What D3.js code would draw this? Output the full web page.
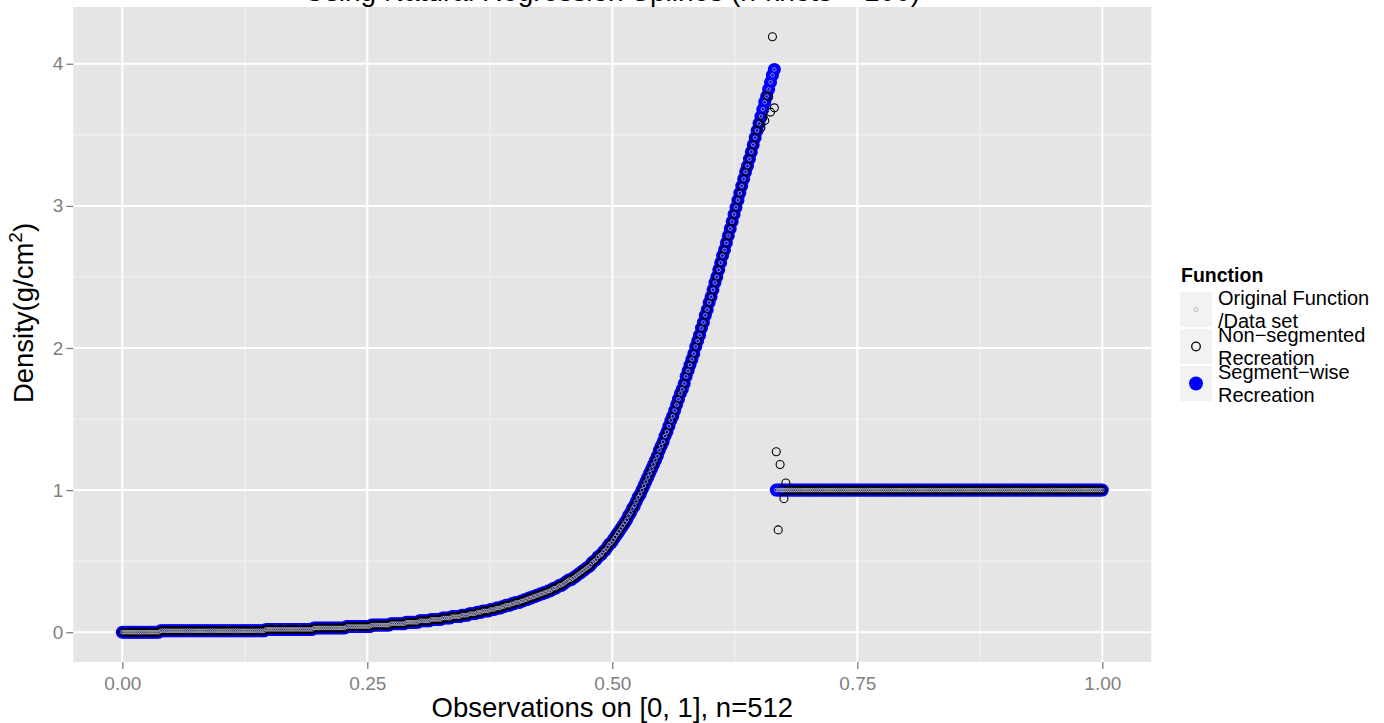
<!DOCTYPE html>
<html>
<head>
<meta charset="utf-8">
<script src="https://cdn.jsdelivr.net/npm/d3@7"></script>
<style>
  body { margin: 0; background: #ffffff; }
  svg { display: block; }
  text { font-family: "Liberation Sans", Arial, Helvetica, sans-serif; }
</style>
</head>
<body>
<svg id="chart" width="1384" height="723"></svg>
<script>
// ---- data -------------------------------------------------------------
const nObs = 512;

// density of the original function at each of the 512 observations
const original = [
  0,0,0,0,0,0,0,0,0,0,0,0,0,0,0,0,0,0,0,0,                                                               // 0-19
  0.01,0.01,0.01,0.01,0.01,0.01,0.01,0.01,0.01,0.01,0.01,0.01,0.01,0.01,0.01,0.01,0.01,0.01,0.01,0.01, // 20-39
  0.01,0.01,0.01,0.01,0.01,0.01,0.01,0.01,0.01,0.01,0.01,0.01,0.01,0.01,0.01,0.01,0.01,0.01,0.01,0.01, // 40-59
  0.01,0.01,0.01,0.01,0.01,0.01,0.01,0.01,0.01,0.01,0.01,0.01,0.01,0.01,0.01,0.02,0.02,0.02,0.02,0.02, // 60-79
  0.02,0.02,0.02,0.02,0.02,0.02,0.02,0.02,0.02,0.02,0.02,0.02,0.02,0.02,0.02,0.02,0.02,0.02,0.02,0.02, // 80-99
  0.03,0.03,0.03,0.03,0.03,0.03,0.03,0.03,0.03,0.03,0.03,0.03,0.03,0.03,0.03,0.03,0.03,0.04,0.04,0.04, // 100-119
  0.04,0.04,0.04,0.04,0.04,0.04,0.04,0.04,0.04,0.04,0.05,0.05,0.05,0.05,0.05,0.05,0.05,0.05,0.05,0.05, // 120-139
  0.06,0.06,0.06,0.06,0.06,0.06,0.06,0.06,0.07,0.07,0.07,0.07,0.07,0.07,0.07,0.08,0.08,0.08,0.08,0.08, // 140-159
  0.08,0.09,0.09,0.09,0.09,0.09,0.09,0.10,0.10,0.10,0.10,0.10,0.11,0.11,0.11,0.11,0.11,0.12,0.12,0.12, // 160-179
  0.12,0.13,0.13,0.13,0.13,0.14,0.14,0.14,0.15,0.15,0.15,0.15,0.16,0.16,0.16,0.17,0.17,0.17,0.18,0.18, // 180-199
  0.19,0.19,0.19,0.20,0.20,0.21,0.21,0.21,0.22,0.22,0.23,0.23,0.24,0.24,0.25,0.25,0.26,0.26,0.27,0.27, // 200-219
  0.28,0.28,0.29,0.29,0.30,0.31,0.31,0.32,0.33,0.33,0.34,0.35,0.36,0.37,0.37,0.38,0.39,0.40,0.41,0.42, // 220-239
  0.43,0.44,0.45,0.46,0.47,0.49,0.50,0.51,0.53,0.54,0.55,0.57,0.58,0.60,0.62,0.63,0.65,0.67,0.69,0.71, // 240-259
  0.73,0.75,0.77,0.79,0.82,0.84,0.87,0.89,0.92,0.95,0.97,1.00,1.03,1.06,1.09,1.12,1.15,1.18,1.21,1.24, // 260-279
  1.28,1.31,1.34,1.38,1.41,1.45,1.49,1.52,1.56,1.60,1.64,1.68,1.71,1.75,1.80,1.84,1.88,1.92,1.96,2.01, // 280-299
  2.05,2.09,2.14,2.18,2.23,2.27,2.32,2.36,2.41,2.46,2.50,2.55,2.60,2.65,2.69,2.74,2.79,2.84,2.89,2.94, // 300-319
  2.99,3.04,3.09,3.14,3.19,3.24,3.28,3.33,3.38,3.43,3.48,3.53,3.58,3.63,3.68,3.73,3.77,3.82,3.87,3.92, // 320-339
  3.96,1,1,1,1,1,1,1,1,1,1,1,1,1,1,1,1,1,1,1,        // 340-359
  1,1,1,1,1,1,1,1,1,1,1,1,1,1,1,1,1,1,1,1,            // 360-379
  1,1,1,1,1,1,1,1,1,1,1,1,1,1,1,1,1,1,1,1,            // 380-399
  1,1,1,1,1,1,1,1,1,1,1,1,1,1,1,1,1,1,1,1,            // 400-419
  1,1,1,1,1,1,1,1,1,1,1,1,1,1,1,1,1,1,1,1,            // 420-439
  1,1,1,1,1,1,1,1,1,1,1,1,1,1,1,1,1,1,1,1,            // 440-459
  1,1,1,1,1,1,1,1,1,1,1,1,1,1,1,1,1,1,1,1,            // 460-479
  1,1,1,1,1,1,1,1,1,1,1,1,1,1,1,1,1,1,1,1,            // 480-499
  1,1,1,1,1,1,1,1,1,1,1,1                             // 500-511
];

// the segment-wise recreation reproduces the original at every observation
const segmentWise = original.slice();

// the non-segmented recreation rings around the jump: [observation, value]
const nonSegmentedJump = [
  [333, 3.55], [334, 3.62], [335, 3.60], [336, 3.78], [337, 3.77],
  [338, 3.66], [339, 4.19], [340, 3.69], [341, 1.27], [342, 0.72],
  [343, 1.18], [345, 0.94], [346, 1.05]
];

const xTicks = [0, 0.25, 0.5, 0.75, 1];
const xTickLabels = ["0.00", "0.25", "0.50", "0.75", "1.00"];
const yTicks = [0, 1, 2, 3, 4];
const yTickLabels = ["0", "1", "2", "3", "4"];

const seriesNames = ["Original Function\n/Data set", "Non\u2212segmented\nRecreation", "Segment\u2212wise\nRecreation"];

const titleText = "Using Natural Regression Splines (n-knots = 100)";
const xTitle = "Observations on [0, 1], n=512";

// ---- derived tables ---------------------------------------------------
const obsX = d3.range(nObs).map(i => i / (nObs - 1));
const nonSegmented = original.slice();
nonSegmentedJump.forEach(([i, v]) => { nonSegmented[i] = v; });

const rows = (vals) => vals.map((v, i) => ({ x: obsX[i], y: v }));
const seriesData = {
  original: rows(original),
  nonSegmented: rows(nonSegmented),
  segmentWise: rows(segmentWise)
};

// ---- layout -----------------------------------------------------------
const svg = d3.select("#chart");
const panel = { left: 73.3, right: 1151.3, top: 7, bottom: 662 };

const expand = ([a, b]) => [a - 0.05 * (b - a), b + 0.05 * (b - a)];
const yExtent = d3.extent(original.concat(nonSegmented, segmentWise));

const x = d3.scaleLinear().domain(expand([0, 1])).range([panel.left, panel.right]);
const y = d3.scaleLinear().domain(expand(yExtent)).range([panel.bottom, panel.top]);

// panel background
svg.append("rect")
  .attr("x", panel.left).attr("y", panel.top)
  .attr("width", panel.right - panel.left).attr("height", panel.bottom - panel.top)
  .attr("fill", "#E5E5E5");

// minor grid
const mid = (t) => d3.range(t.length - 1).map(i => (t[i] + t[i + 1]) / 2);
const grid = svg.append("g");
grid.selectAll(".xminor").data(mid(xTicks)).join("line")
  .attr("x1", d => x(d)).attr("x2", d => x(d))
  .attr("y1", panel.top).attr("y2", panel.bottom)
  .attr("stroke", "#F2F2F2").attr("stroke-width", 1.1);
grid.selectAll(".yminor").data(mid(yTicks)).join("line")
  .attr("y1", d => y(d)).attr("y2", d => y(d))
  .attr("x1", panel.left).attr("x2", panel.right)
  .attr("stroke", "#F2F2F2").attr("stroke-width", 1.1);
// major grid
grid.selectAll(".xmajor").data(xTicks).join("line")
  .attr("x1", d => x(d)).attr("x2", d => x(d))
  .attr("y1", panel.top).attr("y2", panel.bottom)
  .attr("stroke", "#FFFFFF").attr("stroke-width", 2);
grid.selectAll(".ymajor").data(yTicks).join("line")
  .attr("y1", d => y(d)).attr("y2", d => y(d))
  .attr("x1", panel.left).attr("x2", panel.right)
  .attr("stroke", "#FFFFFF").attr("stroke-width", 2);

// ---- points -----------------------------------------------------------
const pts = svg.append("g");
pts.append("g").selectAll("circle").data(seriesData.segmentWise).join("circle")
  .attr("cx", d => x(d.x)).attr("cy", d => y(d.y)).attr("r", 6.5)
  .attr("fill", "#0000FF");
pts.append("g").selectAll("circle").data(seriesData.nonSegmented).join("circle")
  .attr("cx", d => x(d.x)).attr("cy", d => y(d.y)).attr("r", 4)
  .attr("fill", "none").attr("stroke", "#000000").attr("stroke-width", 1.1);
pts.append("g").selectAll("circle").data(seriesData.original).join("circle")
  .attr("cx", d => x(d.x)).attr("cy", d => y(d.y)).attr("r", 1.8)
  .attr("fill", "none").attr("stroke", "#B3B3B3").attr("stroke-width", 0.8);

// ---- axes -------------------------------------------------------------
const axisColor = "#7F7F7F";
const xAxis = svg.append("g")
  .attr("transform", `translate(0,${panel.bottom})`)
  .call(d3.axisBottom(x).tickValues(xTicks).tickFormat((d, i) => xTickLabels[i])
    .tickSize(7).tickPadding(8));
const yAxis = svg.append("g")
  .attr("transform", `translate(${panel.left},0)`)
  .call(d3.axisLeft(y).tickValues(yTicks).tickFormat((d, i) => yTickLabels[i])
    .tickSize(7).tickPadding(3));
[xAxis, yAxis].forEach(a => {
  a.select(".domain").remove();
  a.selectAll(".tick line").attr("stroke", axisColor).attr("stroke-width", 1.3);
  a.selectAll(".tick text").attr("fill", axisColor)
    .attr("font-size", 19).attr("font-family", "Liberation Sans, Arial, sans-serif");
});

// axis titles
svg.append("text")
  .attr("x", (panel.left + panel.right) / 2).attr("y", 717)
  .attr("text-anchor", "middle").attr("font-size", 27.5).attr("fill", "#000")
  .text(xTitle);

const yTitle = svg.append("text")
  .attr("transform", "translate(33,313) rotate(-90)")
  .attr("text-anchor", "middle").attr("font-size", 27.5).attr("fill", "#000");
yTitle.append("tspan").text("Density(g/cm");
yTitle.append("tspan").attr("font-size", 19).attr("dy", -11).text("2");
yTitle.append("tspan").attr("dy", 11).text(")");

// plot title (sits against the top edge)
svg.append("text")
  .attr("x", (panel.left + panel.right) / 2).attr("y", 1)
  .attr("text-anchor", "middle").attr("font-size", 28).attr("fill", "#000")
  .text(titleText);

// ---- legend -----------------------------------------------------------
const legend = svg.append("g").attr("transform", "translate(1180,0)");
legend.append("text").attr("x", 1).attr("y", 282)
  .attr("font-size", 19.5).attr("font-weight", "bold").text("Function");

const keyTops = [292, 329, 366];
const keyH = 35, keyW = 32;
const keyStyles = [
  { r: 2, fill: "none", stroke: "#B3B3B3", sw: 0.9 },
  { r: 4.3, fill: "none", stroke: "#000000", sw: 1.3 },
  { r: 7, fill: "#0000FF", stroke: "none", sw: 0 }
];
seriesNames.forEach((name, k) => {
  const g = legend.append("g").attr("transform", `translate(0,${keyTops[k]})`);
  g.append("rect").attr("width", keyW).attr("height", keyH).attr("fill", "#F2F2F2");
  const s = keyStyles[k];
  g.append("circle").attr("cx", keyW / 2).attr("cy", keyH / 2).attr("r", s.r)
    .attr("fill", s.fill).attr("stroke", s.stroke).attr("stroke-width", s.sw);
  const lines = name.split("\n");
  lines.forEach((ln, j) => {
    g.append("text").attr("x", 38).attr("y", keyH / 2 - 4.5 + j * 23)
      .attr("font-size", 20).attr("fill", "#000").text(ln);
  });
});
</script>
</body>
</html>
